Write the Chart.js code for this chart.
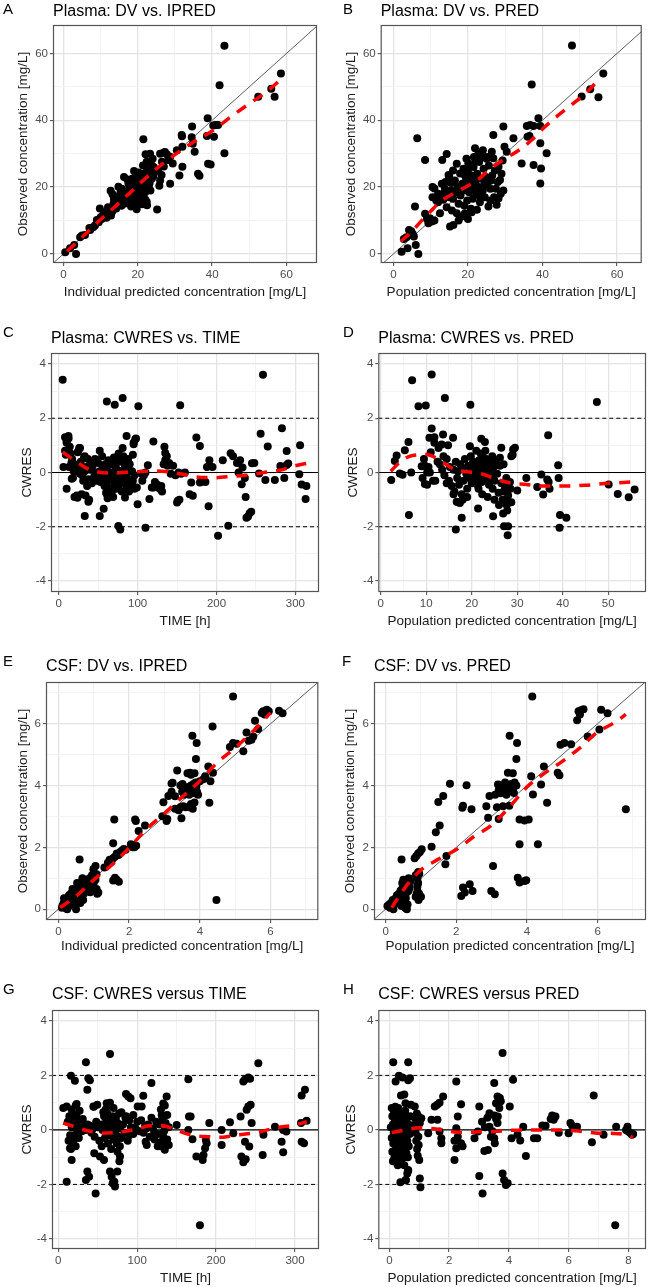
<!doctype html>
<html lang="en">
<head>
<meta charset="utf-8">
<title>Goodness-of-fit plots: plasma and CSF</title>
<style>
  * { margin: 0; padding: 0; }
  body { width: 650px; height: 1287px; background: #fff; position: relative; overflow: hidden; }
  canvas { position: absolute; }
</style>
</head>
<body>
<canvas id="pA"></canvas>
<canvas id="pB"></canvas>
<canvas id="pC"></canvas>
<canvas id="pD"></canvas>
<canvas id="pE"></canvas>
<canvas id="pF"></canvas>
<canvas id="pG"></canvas>
<canvas id="pH"></canvas>
<script src="https://cdn.jsdelivr.net/npm/chart.js"></script>
<script>
// ---- tick labels ----
const plasmaConcTicks = [0, 20, 40, 60];
const plasmaPredTicks = [0, 10, 20, 30, 40, 50];
const timeTicks = [0, 100, 200, 300];
const cwresTicks = [-4, -2, 0, 2, 4];
const csfConcTicks = [0, 2, 4, 6];
const csfPredTicks = [0, 2, 4, 6, 8];

// ---- A: plasma DV vs IPRED  [ipred, dv] ----
const plasmaDvIpred = [
  [43.3,62.3],[42,50.5],[58.5,54],[55.9,49.4],[56.8,47],[52.4,47],[43.3,30.1],
  [38.8,40.6],[40.9,38.6],[41.6,38.6],[40.3,38.4],[40.5,35.1],[38.6,35.3],[38.9,27],[39.6,26.8],
  [36.2,24],[36.6,23.4],[34.6,38.1],[34.5,34.9],[34.8,33],[35.3,30.6],[31.8,35.6],[31.9,35.2],
  [32,32.1],[32,26.1],[31.2,23.5],[30.5,31],[28.7,29.1],[27.3,30.5],[27.8,29.8],[26.9,30.3],
  [26,30],[28.2,28.1],[29.4,27.1],[28.7,21],[26.4,23.6],[26,22],[25.8,20.4],[25.2,13.3],
  [23.6,24],[22.1,29.8],[21.5,34.3],[23.3,30],[22.4,27.6],[24,28.5],[24.3,26],[23,26],
  [12.7,18.9],[14.8,20.1],[16.3,23],[15.7,19.5],[17,17.5],[18,18.5],[17.5,21],[18.5,22.5],
  [19.4,23.2],[20,21],[19,19.5],[20.5,20],[21,22],[21.5,24],[22,23],[22.5,25],[21.8,21],
  [22.8,22],[23,20.5],[23.4,19],[22,18.5],[21,17.5],[20,18],[19.6,16],[19.7,13.4],[22,16.3],
  [22.4,15.6],[22.5,14.6],[21.2,14.9],[20,15.5],[18.8,17],[17.8,15.5],[17.2,16.5],[16.5,17.8],
  [16,16.5],[15.2,15.5],[14.5,16],[14,14.5],[13.5,15],[13,13.5],[12.5,12.2],[12,14],[11.5,11.5],
  [11,12.5],[10.7,11.7],[10.3,10.5],[10,11],[9.8,13.6],[9,10.2],[9.5,9.5],[8.5,8.5],[8,8],
  [7.2,7.2],[7,7.8],[5.8,5.7],[4.5,5],[5,5.5],[2.9,2.7],[1.8,1.7],[0.5,0.5],[3.4,0],
  [11.6,10.8],[12.8,11.5],[13.2,12.8],[14.2,13.6],[15.6,14.4],[16.6,15.1],[17.6,16.8],[18.3,17.6],
  [19.3,18.4],[20.3,19.3],[21.2,20.2],[22.1,19.6],[23.2,21.3],[23.8,22.6],[24.2,23.3],[20.8,23.5],
  [19.8,22.2],[18.8,20.8],[17.8,19.8],[16.8,18.6],[15.8,17.2],[14.9,15.9],[14.3,17.2],[13.6,16.4],
  [18.2,14.2],[19.2,15.2],[20.7,16.6],[21.6,18.8],[22.9,24.2],[23.5,27.2],[22.7,27.4],[24.6,25.1],
  [25.5,24.8],[26.5,27.6],[27,26.2],[20.2,24.4],[21.4,26.5],[19,24.8],[17.2,22.3],[15.4,18.7],[13.2,17.9]
];
const plasmaDvIpredLoess = [
  [1,0.8],[5,5],[10,10.3],[15,15.3],[20,20.5],[25,25.5],[30,29.7],[35,33.5],[40,36.8],
  [45,41],[50,45],[55,48.8],[59,52.8]
];

// ---- B: plasma DV vs PRED  [pred, dv] ----
const plasmaDvPred = [
  [47.9,62.4],[37.1,50.7],[56.3,54],[52.8,49.3],[50.5,47.1],[55,46.9],[38.9,40.6],[39.4,38.3],
  [35.8,38.3],[36.7,38.6],[37.6,38.3],[36,35.1],[36.5,35.3],[39.4,33.1],[41.1,30.1],[34.4,27.1],
  [37.6,26.6],[39.6,25.6],[39.4,21.1],[32.2,34.6],[29.5,38.1],[29.8,32.1],[30.4,30.6],[26.8,35.6],
  [6.4,34.6],[8.5,28.1],[13.1,28.1],[14.3,29.9],[5.8,14.2],[4.2,7.2],[4.8,6.8],[5.2,6],[5.5,5.2],
  [6,2.7],[6.7,0],[3.8,1.7],[2.2,0.7],[9.8,10.7],[10.3,9.7],[9.4,9.2],[2.8,4.5],[3.5,5],[4.5,6.5],
  [8.5,12],[9,10.5],[11,10],[15.2,8.2],[16.1,8.7],
  [11,19.6],[11.5,16],[12,15.5],[12.5,12.2],[13,16.5],[13.4,16.2],[13.5,18],[14,21.5],[14.3,14],
  [14.8,23.6],[15,17],[15.5,19],[15.7,13],[16,16.5],[16.5,22],[16.8,18.5],[17,12.2],[17.2,20],
  [17.5,15],[17.9,24.1],[18,17.5],[18.3,11.2],[18.5,21],[18.8,19],[19,14.5],[19.2,12.2],[19.5,22.5],
  [19.8,16],[20,25],[20.1,27.1],[20.3,18.5],[20.5,21.5],[20.8,13.5],[21,23.5],[21,19.5],[21.3,16.5],
  [21.5,26],[21.6,29],[21.9,31.6],[22,21],[22.2,18],[22.4,13.2],[22.5,24],[22.8,20],[23,27.5],
  [23.2,15.5],[23.5,22.5],[23.7,29.1],[24,19],[24.2,25.5],[24.5,17],[24.8,23],[25,28.5],[25.2,21],
  [25.5,14.2],[25.6,26.5],[26,19.5],[26.4,30.6],[26.5,23.5],[26.8,28.6],[27,17],[27.2,25],[27.7,14.7],
  [28,21.5],[28.2,26.1],[28.2,16.6],[28.6,22.1],[29,24],[29.5,19],[18.8,25.5],[19.6,28.5],[17,27],
  [16,25],[15,23],[14,18],[13,21],[12,18],[10.5,17],[10.5,20],[24,31],[25,29],[22.8,30],[20.7,20.8],
  [21.8,22.5],[19.3,19.8],[18,20.2],[23,17.5],[24.3,20.5],[26.2,22],[27.5,19.5],[28.8,18],[29.3,28],
  [20,10.5],[21,12.5],[17.5,10],[26,16],[22,27.8],[19,23.8],[15.5,21.2],[13.8,19.5]
];
const plasmaDvPredLoess = [
  [2,3.8],[5,6.8],[8,10.5],[10,12.8],[13,16],[16,18],[20,20.4],[23,22.5],[26,25.5],[30,28.5],
  [34,31.3],[37,34],[40,37.4],[44,41.3],[48,44.8],[52,48.5],[54.5,51.5]
];

// ---- C: plasma CWRES vs TIME  [time, cwres] ----
const plasmaCwresTime = [
  [5,3.42],[259,3.6],[61,2.62],[71,2.5],[81,2.75],[101,2.44],[154,2.48],[283,1.63],[256,1.43],
  [265,0.96],[306,1.0],[289,0.79],[12.3,1.35],[12.5,1.25],[10,1.16],[8,0.8],[27,0.9],[25,0.8],
  [52,0.8],[33,0.6],[120,1.14],[134,0.95],[135,0.72],[174.5,1.29],[179,0.98],[191,0.45],[208,0.45],
  [218,0.71],[221,0.6],[230,0.45],[233,0.18],[245,0.34],[254,-0.04],[262,-0.28],[274,-0.28],
  [281,0.24],[286,-0.2],[289,0.28],[291,0.33],[305,-0.06],[308,-0.44],[314,-0.5],[313,-0.98],
  [86,1.35],[95,1.04],[97,1.23],[100,-1.17],[110,-2.04],[115,-0.98],[120,-0.55],[113,0.27],
  [145,0.25],[150,-1.11],[151,-1.04],[153,-1.0],[168,-0.37],[166,-0.8],[170,-0.86],[179,-0.37],
  [183,-0.33],[186,-0.35],[190,-1.24],[202,-2.33],[215,-1.96],[232,-0.43],[237,-0.9],[238,-1.67],
  [240,-1.62],[242,-1.5],[244,-1.45],[75.6,-1.97],[78,-2.1],[33,-1.6],[52,-1.6],[57,-1.34],
  [37.6,-1.08],[38.5,-1.0],[10,-0.6],[16.5,-0.23],[23.7,-0.93],[29,-0.8],[61,-0.8],[65,-0.67],
  [84,-0.92],[94,-0.3],[96,-0.6],[88,0.5],
  [8,1.3],[10,1.1],[12,0.8],[13,0.2],[6,0.2],[9,0.65],[15,0.7],[17,0.5],[20,0.3],[18,-0.2],
  [22,0.1],[24,0.05],[26,0.15],[28,0.4],[30,-0.1],[31,-0.3],[33,0.05],[35,0.2],[36,-0.5],[38,-0.25],
  [40,0.1],[42,-0.4],[43,0.25],[45,-0.15],[46,0.5],[48,-0.3],[50,0.35],[52,0.05],[54,-0.2],[55,0.6],
  [58,-0.5],[59,0.3],[60,-0.75],[61,0.15],[62,-0.3],[63,0.45],[64,-0.8],[65,0.0],[66,-0.55],[67,0.3],
  [68,-0.1],[69,-0.9],[70,0.55],[71,-0.35],[72,0.2],[73,-0.6],[74,0.1],[75,-0.2],[76,0.7],[77,-0.45],
  [78,0.05],[80,0.4],[80,-0.7],[82,0.6],[83,-0.3],[84,0.25],[86,-0.5],[87,0.0],[88,-0.25],[90,0.3],
  [91,-0.6],[92,-0.4],[94,0.65],[95,1.1],[96,-0.1],[98,1.25],[99,-0.55],[24,0.75],[26,0.9],[20,-0.9],
  [23,-0.85],[27,-0.05],[32,0.55],[34,-0.85],[37,0.5],[41,0.3],[47,0.0],[49,-0.05],[53,-0.35],
  [56,0.2],[57,-0.1],[63,-0.1],[65,0.35],[70,-0.2],[79,-0.15],[85,0.1],[89,-0.7],[93,0.05],[62,-0.95],
  [67,-0.75],[73,0.35],[75,0.6],[81,0.9],[84,0.45],[88,0.2],[14,0.95],[16,0.35],[19,0.05],
  [105,-0.05],[106,-0.3],[108,-0.1],[110,0.0],[118,-0.55],[122,-0.35],[125,-0.45],[128,-0.6],
  [130,-0.5],[131,-0.7],[133,0.3],[135,0.45],[137,0.6],[138,0.25],[140,0.35],[142,-0.05],[148,-0.1],
  [152,0.0],[155,-0.05],[160,0.0],[188,0.2],[195,0.2],[226,0.35],[228,0.0],[236,-0.2],[248,0.35]
];
const plasmaCwresTimeLoess = [
  [5,0.75],[15,0.55],[25,0.35],[35,0.16],[50,0.02],[65,-0.02],[80,0],[100,0.03],[120,0.06],
  [140,0.02],[160,-0.08],[180,-0.18],[200,-0.19],[220,-0.14],[240,-0.09],[260,0],[280,0.08],
  [300,0.25],[315,0.34]
];

// ---- D: plasma CWRES vs PRED  [pred, cwres] ----
const plasmaCwresPred = [
  [6.9,3.4],[11.2,3.61],[8.3,2.44],[9.9,2.47],[14.1,2.75],[19.7,2.5],[47.5,2.6],[36.8,1.37],
  [11.2,1.62],[10.7,1.28],[11.8,1.3],[13.7,1.4],[15.9,1.28],[13.4,1.03],[14.8,1.0],[6.1,1.12],
  [5.3,0.82],[3.5,0.63],[3.1,0.42],[2.3,-0.28],[4.2,-0.04],[4.8,-0.08],[6.7,0],[6.2,-1.57],[9,0.23],
  [9.7,0.25],[9.2,-0.2],[9.7,-0.42],[10.2,0.0],[16.7,-1.08],[17.4,-1.12],[17.8,-1.67],[16.5,-2.1],
  [19.6,0.97],[22.1,1.24],[22.9,1.12],[24.5,0.6],[26.2,0.54],[26.5,0.91],[29.1,0.85],[29.5,0.91],
  [28.7,0.6],[30,-0.66],[27.9,-1.09],[27.7,-1.2],[26.9,-1.51],[24.7,-1.61],[27.1,-1.98],[28,-1.98],
  [27.9,-2.31],[21.4,-1.33],[32,-0.2],[34.4,-0.53],[35.3,-0.07],[35.7,-0.81],[36.6,-0.26],[36.9,-0.35],
  [37.1,-0.6],[39,0.27],[39.1,-0.2],[39.4,-1.57],[39.3,-2.04],[40.8,-1.67],[50.1,-0.44],[52.1,-0.79],
  [54.5,-0.91],[55.8,-0.63],
  [13,0.3],[13.5,0.1],[14,-0.1],[14.5,0.5],[15,-0.3],[15.2,0.2],[15.6,-0.5],[16,0.1],[16.2,-0.7],
  [16.5,0.4],[16.8,-0.2],[17,0.05],[17.2,-0.45],[17.5,0.3],[17.8,-0.8],[18,0.15],[18.2,-0.3],[18.5,0.5],
  [18.8,-0.05],[19,-0.6],[19.2,0.25],[19.5,-0.2],[19.8,0.6],[20,-0.4],[20.2,0.05],[20.5,-0.15],
  [20.7,0.35],[21,-0.3],[21.2,0.1],[21.4,-0.5],[21.6,0.45],[21.8,-0.1],[22,0.2],[22.2,-0.35],[22.4,0.0],
  [22.6,-0.2],[22.8,0.3],[23,-0.05],[23.2,0.5],[23.4,-0.25],[23.6,0.15],[23.8,-0.45],[24,0.05],
  [24.2,0.35],[24.4,-0.15],[24.6,-0.6],[24.8,0.2],[25,-0.3],[25.3,0.45],[25.6,-0.05],[25.9,-0.75],
  [26.2,0.25],[26.5,-0.4],[26.8,-1.0],[27,0.3],[27.3,-0.5],[27.6,-0.2],[28,-0.85],[28.4,-0.35],
  [28.7,-1.1],[22,0.7],[22.5,0.55],[21,0.8],[20.3,0.4],[23,0.8],[24,0.45],[21.5,-0.6],[22.3,-0.8],
  [23.5,-0.9],[25,-1.0],[19,-0.9],[18,-1.0],[17,-1.1],[16,-0.8],[14.5,-0.4],[13.8,0.6],[12,-0.3],
  [12.5,0.4],[11,0.75],[11.8,1.1],[12.7,0.9],[10.5,0.2],[10.2,-0.45],[10.8,0.0],[11.5,-0.3],[9.5,0.5],
  [26,-1.2],[27.8,-1.4],[27,-0.7],[28.5,-0.6],[29,0.65],[23.8,-0.05],[21.8,0.25],[22.7,0.1],[20.8,-0.05],
  [19.7,0.2]
];
const plasmaCwresPredLoess = [
  [2.2,0.05],[4.5,0.42],[7,0.63],[10,0.66],[12,0.55],[14,0.33],[16.5,0.1],[19.5,0.02],[22,-0.04],
  [25,-0.22],[28,-0.37],[32,-0.44],[35,-0.5],[40,-0.5],[45,-0.47],[50,-0.4],[55,-0.35]
];

// ---- E: CSF DV vs IPRED  [ipred, dv] ----
const csfDvIpred = [
  [4.94,6.88],[4.36,5.91],[3.79,5.61],[3.91,5.38],[3.89,4.86],[4.24,4.62],[3.72,4.41],[3.85,4.4],
  [3.23,4.09],[3.36,4.49],[3.51,4.05],[3.11,3.66],[2.97,3.46],[3.53,3.33],[3.48,2.94],[4.27,3.44],
  [4.0,4.14],[4.3,4.14],[4.37,4.41],[3.08,2.92],[2.94,3.01],[3.06,2.85],[2.45,2.71],[2.19,2.85],
  [2.17,2.9],[2.27,2.53],[2.12,2.08],[2.15,2.0],[1.58,2.9],[1.55,2.13],[1.6,1.02],[1.71,0.89],
  [1.55,0.93],[1.65,0.95],[0.6,1.61],[1.05,1.4],[0.99,1.29],[1.08,1.13],[1.13,0.54],[1.08,0.65],
  [4.47,0.3],
  [4.85,5.25],[4.94,5.38],[5.04,5.35],[5.23,5.11],[5.32,5.72],[5.51,5.59],[5.65,5.83],[5.56,6.1],
  [5.79,6.4],[5.89,6.45],[5.95,6.4],[6.24,6.42],[6.34,6.34],[5.83,6.3],[5.46,5.48],[5.38,5.45],[5.75,6.35],
  [1.3,1.35],[1.4,1.5],[1.45,1.6],[1.5,1.55],[1.55,1.65],[1.6,1.7],[1.65,1.8],[1.7,1.75],[1.75,1.85],
  [1.8,1.9],[1.85,1.95],[1.9,1.92],[2.05,2.1],[2.1,2.0],[2.2,2.05],
  [0.1,0.05],[0.12,0.12],[0.15,0.2],[0.2,0.05],[0.22,0.3],[0.25,0.15],[0.28,0.4],[0.3,0.1],
  [0.33,0.25],[0.35,0.5],[0.38,0.35],[0.4,0.2],[0.42,0.45],[0.45,0.6],[0.47,0.3],[0.5,0.0],[0.5,0.55],
  [0.52,0.4],[0.55,0.7],[0.55,0.25],[0.58,0.5],[0.6,0.8],[0.6,0.35],[0.63,0.6],[0.65,0.45],[0.67,0.9],
  [0.7,0.65],[0.72,0.5],[0.75,0.85],[0.78,0.7],[0.8,0.95],[0.82,0.6],[0.85,0.8],[0.88,1.0],[0.9,0.75],
  [0.95,1.1],[1.0,0.85],[1.0,1.15],[1.05,0.95],[0.3,0.45],[0.45,0.15],[0.62,0.2],[0.7,0.3],[0.16,0.35],
  [0.25,0.0],[0.4,0.65],[0.53,0.85],[0.68,1.0],[0.9,0.55],[1.1,0.5],[0.97,0.7],
  [3.4,3.2],[3.45,3.3],[3.5,3.8],[3.55,3.7],[3.6,3.75],[3.62,3.9],[3.65,3.85],[3.68,3.95],[3.7,3.7],
  [3.72,3.8],[3.75,4.0],[3.78,3.85],[3.8,3.9],[3.82,4.05],[3.85,3.75],[3.9,3.95],[3.88,4.1],[3.92,3.8],
  [3.95,3.7],[3.6,3.3],[3.7,3.3],[3.8,3.25],[3.85,3.45],[3.75,3.4],[3.3,3.25],[3.2,3.8],[3.3,3.65],
  [3.45,4.0],[3.55,3.95],[3.65,4.4],[3.75,4.35],[3.2,4.07],[4.1,4.2],[4.15,4.3]
];
const csfDvIpredLoess = [
  [0.05,0.05],[0.5,0.42],[1,0.95],[1.5,1.42],[2,1.98],[2.5,2.6],[3,3.1],[3.5,3.63],[4,4.15],
  [4.5,4.75],[5,5.22],[5.5,5.75],[6,6.35]
];

// ---- F: CSF DV vs PRED  [pred, dv] ----
const csfDvPred = [
  [4.15,6.88],[6.8,3.23],[3.51,5.61],[3.72,5.38],[3.7,4.86],[1.82,4.06],[2.29,4.01],[1.63,3.66],
  [1.49,3.47],[1.53,2.71],[1.42,2.49],[2.17,3.28],[2.19,3.35],[2.43,3.23],[2.85,3.33],[2.94,3.66],
  [3.18,4.03],[3.46,4.41],[3.6,4.4],[3.55,4.05],[3.35,3.95],[3.32,3.33],[3.63,3.76],[4.12,4.3],
  [4.17,3.71],[4.4,4.03],[4.48,4.62],[4.57,3.44],[4.87,4.41],[4.92,4.33],[4.31,2.1],[3.79,2.1],
  [3.79,2.9],[3.93,2.87],[4.05,2.9],[3.04,1.4],[2.99,0.59],[3.09,0.48],[3.74,1.02],[3.79,0.86],
  [3.93,0.91],[3.98,0.94],[2.19,0.7],[2.14,0.43],[2.24,0.54],[2.38,0.81],[2.46,0.59],[2.9,2.96],
  [3.2,2.92],[1.3,2.02],[1.69,1.45],[1.72,1.72],
  [4.95,5.32],[5.06,5.38],[5.25,5.34],[5.42,6.11],[5.46,6.4],[5.53,6.44],[5.6,6.47],[5.72,5.59],
  [6.1,6.45],[6.28,6.34],[6.05,5.81],[5.5,6.3],
  [3.1,3.7],[3.2,3.85],[3.25,3.75],[3.3,3.9],[3.4,3.8],[3.45,3.95],[3.5,3.85],[3.38,4.1],[3.55,4.0],
  [3.65,4.1],[3.6,3.9],[3.7,4.0],[3.42,3.7],[3.25,4.0],[3.15,3.3],[3.5,3.35],
  [1.02,1.94],[0.87,1.72],[0.92,1.8],[0.97,1.85],[0.82,1.65],[0.45,1.61],
  [0.05,0.1],[0.1,0.15],[0.12,0.05],[0.15,0.2],[0.18,0.1],[0.2,0.3],[0.22,0.0],[0.25,0.15],[0.28,0.35],
  [0.3,0.25],[0.32,0.45],[0.35,0.3],[0.38,0.5],[0.4,0.2],[0.42,0.6],[0.45,0.4],[0.48,0.7],[0.5,0.55],
  [0.5,0.25],[0.52,0.8],[0.53,0.45],[0.55,0.9],[0.55,0.65],[0.57,0.35],[0.58,0.75],[0.6,0.95],
  [0.6,0.55],[0.6,0.0],[0.62,0.15],[0.62,0.85],[0.65,0.6],[0.65,1.0],[0.68,0.7],[0.7,0.9],[0.45,0.1],
  [0.55,0.05],[0.5,0.95],[0.47,0.85],[0.85,0.4],[0.88,0.5],[0.9,0.6],[0.9,0.75],[0.92,0.85],[0.9,1.0],
  [0.88,1.1],[0.92,1.2],[0.95,1.15],[0.85,1.1],[0.95,0.5],[1.0,0.4],[0.93,0.3]
];
const csfDvPredLoess = [
  [0.17,0.05],[0.4,0.45],[0.65,0.85],[1,1.27],[1.5,1.62],[2,1.93],[2.5,2.35],[3,2.72],[3.5,3.3],
  [4,3.95],[4.5,4.4],[5,4.78],[5.5,5.22],[6,5.73],[6.5,6.05],[6.8,6.3]
];

// ---- G: CSF CWRES vs TIME  [time, cwres] ----
const csfCwresTime = [
  [65.5,2.79],[35,2.48],[253.5,2.45],[16,1.99],[21,1.8],[38,1.9],[40,1.82],[36.8,1.47],[118,1.72],
  [164.8,1.86],[234.5,1.78],[236.5,1.85],[240.8,1.92],[243,1.88],[312.6,1.47],[308.4,1.26],
  [85.8,1.32],[88.7,1.23],[91.5,1.16],[107.7,1.25],[137.3,1.23],[133,0.97],[10.6,0.86],[6.3,0.8],
  [23.2,0.95],[44.4,0.86],[49.4,0.92],[61.3,0.98],[65.5,1.0],[100.6,0.86],[105.6,0.86],[131,0.55],
  [132,0.49],[165.6,0.49],[167.7,0.49],[150,0.18],[164.8,0],[170,-0.34],[175,-0.98],[183,-1.1],
  [184,-0.92],[186,-0.67],[188,-0.49],[187,-0.37],[191.4,0.25],[207,0],[207,-0.55],[217.6,0.28],
  [221.8,-0.12],[231,0.49],[232,-0.98],[234.5,-1.19],[237.5,-1.08],[238.7,0.74],[240.8,0.86],
  [243.8,0.92],[236.6,-0.43],[242,-0.61],[245,0.25],[260,-0.18],[259,-0.92],[274.6,0.12],[285,0],
  [289,-0.06],[283,-0.43],[285,-0.82],[307.6,0.25],[308.4,-0.43],[311.4,-0.49],[314.7,0.34],
  [10.6,-1.9],[16.9,-1.1],[14.8,-0.67],[36.8,-1.53],[35,-1.84],[39,-1.72],[47.3,-2.33],[45.6,-0.86],
  [52.8,-0.98],[57.9,-1.1],[65.5,-1.53],[67.6,-1.72],[68.9,-1.96],[71.8,-2.08],[71,-1.9],[74.8,-1.53],
  [77.4,-1.15],[78.2,-0.98],[179.5,-3.5],[112,0.06],[110.7,-0.43],[120.5,-0.2],[133,-0.25],
  [137.3,-0.43],[135,-0.73],[131,-0.61],
  [12,0.3],[14,0.5],[15,-0.2],[16,0.4],[17,0.1],[18,0.6],[19,-0.4],[20,0.45],[21,0.2],[22,-0.6],
  [23,0.55],[24,0.0],[25,0.35],[26,-0.3],[27,0.7],[28,0.1],[30,-0.05],[31,0.4],[33,0.15],[35,0.0],
  [37,0.2],[40,0.15],[42,-0.1],[44,0.05],[46,-0.25],[48,0.3],[50,0.1],[52,-0.4],[54,0.2],[55,-0.6],
  [56,0.0],[58,0.5],[59,-0.3],[60,0.25],[61,-0.15],[62,0.6],[63,-0.5],[64,0.1],[65,-0.2],[66,0.35],
  [67,-0.7],[68,0.0],[69,0.5],[70,-0.35],[71,0.15],[72,-0.1],[73,0.45],[74,-0.5],[75,0.25],[76,-0.25],
  [77,0.6],[78,0.05],[80,-0.3],[82,0.2],[84,-0.1],[86,0.5],[88,-0.4],[90,-0.2],[92,0.1],[95,-0.15],
  [98,0.05],[100,0.3],[103,-0.05],[105,0.35],[108,-0.1],[110,0.15],[112,-0.55],[114,0.2],[116,-0.25],
  [118,0.45],[120,0.05],[122,-0.35],[124,0.3],[126,-0.15],[128,0.2],[130,-0.45],[132,0.4],[134,-0.05],
  [136,0.25],[138,-0.35],[140,0.1],[16,-0.7],[18,-0.5],[13,-0.4],[20,-0.2],[22,0.9],[17,0.75],[60,0.75],
  [70,0.8],[64,0.9],[57,0.65],[75,-0.8],[78,-0.6],[80,0.65],[45,0.85],[95,0.55],[130,0.75],[135,0.9],
  [138,0.55],[126,-0.6],[140,-0.55],[85,0.45],[90,0.35]
];
const csfCwresTimeLoess = [
  [6,0.25],[15,0.17],[25,0.07],[40,-0.05],[55,-0.12],[70,-0.1],[85,-0.05],[100,0.03],[115,0.15],
  [130,0.16],[145,0.05],[160,-0.12],[175,-0.22],[190,-0.25],[205,-0.27],[220,-0.22],[235,-0.16],
  [250,-0.1],[265,0],[280,0.1],[300,0.18],[315,0.3]
];

// ---- H: CSF CWRES vs PRED  [pred, cwres] ----
const csfCwresPred = [
  [0.13,2.48],[0.63,2.48],[0.32,1.99],[0.44,1.92],[0.21,1.78],[0.69,1.9],[0.63,1.82],[3.79,2.82],
  [3.51,1.72],[4.14,1.84],[2.24,1.78],[0.39,1.26],[0.5,1.3],[0.54,0.98],[0.72,0.92],[0.85,0.86],
  [1.8,1.23],[1.68,1.0],[1.6,0.92],[1.52,0.86],[1.07,0.43],[1.02,0.25],[1.41,0.37],[1.61,0.37],
  [1.3,-0.12],[1.68,-0.06],[1.74,-0.31],[1.74,-0.49],[2.29,0.49],[2.4,0.94],[2.24,0.06],[2.29,-0.25],
  [2.18,-0.4],[2.24,-0.67],[2.18,-1.1],[2.4,-0.49],[2.45,-0.6],[3.01,0.86],[2.96,-0.06],[2.85,-0.31],
  [3.01,-1.69],[3.12,-2.33],[3.18,-0.77],[3.3,-0.74],[3.35,0.61],[3.52,0.53],[3.57,0.41],[3.63,0.49],
  [3.62,1.23],[3.7,1.17],[3.73,1.05],[3.57,0.98],[3.68,0.8],[3.35,0.12],[3.4,-0.25],[3.51,-0.31],
  [3.53,-0.49],[3.62,0.25],[3.79,-1.6],[3.84,-1.84],[3.96,-1.96],[3.9,-2.02],[4.03,0.86],[4.09,-0.31],
  [4.29,-0.18],[4.38,-0.39],[4.48,0.12],[4.57,-0.96],[4.84,-0.31],[4.95,-0.31],[5.12,0.16],[5.23,0.15],
  [5.4,0.4],[5.45,0.53],[5.56,0.49],[5.5,0.37],[5.67,-0.1],[6.06,0.25],[6.12,0.15],[6.23,0.06],
  [6.28,0.12],[6.0,-0.12],[6.84,1.26],[6.78,-0.45],[7.17,-0.18],[7.59,0.12],[7.56,-3.5],[7.97,0.12],
  [8.0,-0.06],[8.06,-0.1],[8.12,-0.18],[8.16,-0.15],[7.92,0.0],[1.02,-1.78],[1.04,-2.1],[0.63,-1.47],
  [0.55,-1.84],[0.37,-1.92],[3.1,0.3],[3.2,0.1],[3.45,-0.05],[3.28,0.45],
  [0.05,0.1],[0.08,-0.3],[0.1,0.5],[0.1,-0.8],[0.12,0.2],[0.13,-0.5],[0.15,0.7],[0.15,-0.1],[0.17,-1.0],
  [0.18,0.4],[0.2,-0.3],[0.2,0.0],[0.22,-0.7],[0.22,0.6],[0.24,-0.15],[0.25,0.3],[0.25,-1.2],[0.27,-0.45],
  [0.28,0.1],[0.3,0.8],[0.3,-0.6],[0.32,-0.2],[0.33,0.45],[0.35,-0.9],[0.35,0.0],[0.37,0.25],[0.38,-0.5],
  [0.4,0.6],[0.4,-1.1],[0.42,-0.05],[0.43,0.35],[0.45,-0.7],[0.45,0.15],[0.47,-0.3],[0.48,0.5],[0.5,-1.3],
  [0.5,0.05],[0.52,-0.55],[0.53,0.7],[0.55,-0.2],[0.55,0.3],[0.57,-0.85],[0.58,0.1],[0.6,-0.4],[0.6,0.45],
  [0.62,-1.0],[0.63,0.0],[0.65,0.2],[0.65,-0.6],[0.68,-0.15],[0.7,0.5],[0.2,0.85],[0.08,0.8],[0.12,-1.15],
  [0.28,-1.3],[0.38,-1.05],[0.5,-1.0],[0.6,-1.6],[0.63,-1.5],[0.55,-1.85],
  [0.85,0.45],[0.87,0.2],[0.88,-0.1],[0.9,0.35],[0.9,-0.4],[0.92,0.6],[0.93,-0.7],[0.95,0.15],[0.95,-0.95],
  [0.97,0.5],[0.97,-0.25],[1.0,-1.1],[0.98,-0.55],[1.0,0.3]
];
const csfCwresPredLoess = [
  [0.08,-0.1],[0.5,-0.01],[1,0.08],[1.5,0.04],[2,-0.05],[2.5,-0.1],[3,-0.07],[3.5,-0.06],[4,-0.02],
  [4.5,0],[5,0],[5.5,0],[6,-0.02],[6.5,-0.06],[7,-0.12],[7.5,-0.13],[8,-0.2],[8.15,-0.28]
];

// ---- panel layout (page pixel coords of the plot box) ----
const panels = [
  { id: 'pA', letter: 'A', title: 'Plasma: DV vs. IPRED', kind: 'dv', pts: plasmaDvIpred, smooth: plasmaDvIpredLoess,
    xTitle: 'Individual predicted concentration [mg/L]', yTitle: 'Observed concentration [mg/L]',
    col: 0, L: 53, R: 317, T: 25, B: 263, xr: [-2.8, 68.2], yr: [-2.7, 68.5], xt: plasmaConcTicks, yt: plasmaConcTicks,
    titleY: 12, letterX: 3, letterY: 10, yTitleX: 23, xTitleY: 292.5 },
  { id: 'pB', letter: 'B', title: 'Plasma: DV vs. PRED', kind: 'dv', pts: plasmaDvPred, smooth: plasmaDvPredLoess,
    xTitle: 'Population predicted concentration [mg/L]', yTitle: 'Observed concentration [mg/L]',
    col: 1, L: 380.7, R: 641.7, T: 25, B: 263, xr: [-3.4, 66.6], yr: [-2.7, 68.5], xt: plasmaConcTicks, yt: plasmaConcTicks,
    titleY: 12, letterX: 343, letterY: 10, yTitleX: 351, xTitleY: 292.5 },
  { id: 'pC', letter: 'C', title: 'Plasma: CWRES vs. TIME', kind: 'res', pts: plasmaCwresTime, smooth: plasmaCwresTimeLoess,
    xTitle: 'TIME [h]', yTitle: 'CWRES',
    col: 0, L: 51, R: 319, T: 353.3, B: 592.7, xr: [-9.8, 330], yr: [-4.405, 4.405], xt: timeTicks, yt: cwresTicks,
    titleY: 339.3, letterX: 3, letterY: 333, yTitleX: 27, xTitleY: 621.7 },
  { id: 'pD', letter: 'D', title: 'Plasma: CWRES vs. PRED', kind: 'res', pts: plasmaCwresPred, smooth: plasmaCwresPredLoess,
    xTitle: 'Population predicted concentration [mg/L]', yTitle: 'CWRES',
    col: 1, L: 378.3, R: 646.7, T: 353.3, B: 592.7, xr: [-0.53, 58.3], yr: [-4.405, 4.405], xt: plasmaPredTicks, yt: cwresTicks,
    titleY: 339.3, letterX: 343, letterY: 333, yTitleX: 353, xTitleY: 621.7 },
  { id: 'pE', letter: 'E', title: 'CSF: DV vs. IPRED', kind: 'dv', pts: csfDvIpred, smooth: csfDvIpredLoess,
    xTitle: 'Individual predicted concentration [mg/L]', yTitle: 'Observed concentration [mg/L]',
    col: 0, L: 46, R: 318.3, T: 682.3, B: 920.7, xr: [-0.35, 7.35], yr: [-0.35, 7.35], xt: csfConcTicks, yt: csfConcTicks,
    titleY: 666.7, letterX: 3, letterY: 661.7, yTitleX: 23, xTitleY: 946.7 },
  { id: 'pF', letter: 'F', title: 'CSF: DV vs. PRED', kind: 'dv', pts: csfDvPred, smooth: csfDvPredLoess,
    xTitle: 'Population predicted concentration [mg/L]', yTitle: 'Observed concentration [mg/L]',
    col: 1, L: 374, R: 646.7, T: 682.3, B: 920.7, xr: [-0.33, 7.37], yr: [-0.35, 7.35], xt: csfConcTicks, yt: csfConcTicks,
    titleY: 666.7, letterX: 342, letterY: 661.7, yTitleX: 350, xTitleY: 946.7 },
  { id: 'pG', letter: 'G', title: 'CSF: CWRES versus TIME', kind: 'res', pts: csfCwresTime, smooth: csfCwresTimeLoess,
    xTitle: 'TIME [h]', yTitle: 'CWRES',
    col: 0, L: 52, R: 319, T: 1010, B: 1249, xr: [-8, 330.4], yr: [-4.37, 4.4], xt: timeTicks, yt: cwresTicks,
    titleY: 995, letterX: 3, letterY: 990, yTitleX: 27, xTitleY: 1278.3 },
  { id: 'pH', letter: 'H', title: 'CSF: CWRES versus PRED', kind: 'res', pts: csfCwresPred, smooth: csfCwresPredLoess,
    xTitle: 'Population predicted concentration [mg/L]', yTitle: 'CWRES',
    col: 1, L: 378.3, R: 647.7, T: 1010, B: 1249, xr: [-0.37, 8.59], yr: [-4.37, 4.4], xt: csfPredTicks, yt: cwresTicks,
    titleY: 995, letterX: 343, letterY: 990, yTitleX: 351.7, xTitleY: 1278.3 }
];

const FONT = "'Liberation Sans', Arial, sans-serif";
const axisTitleSize = 13.5;
Chart.defaults.font.family = FONT;

// panel border, title and letter
const panelDecor = {
  id: 'panelDecor',
  afterDraw(chart, args, opts) {
    const { ctx, chartArea: { left, top, right, bottom } } = chart;
    ctx.save();
    ctx.strokeStyle = '#555';
    ctx.lineWidth = 1.2;
    ctx.strokeRect(left + 0.5, top + 0.5, right - left - 1, bottom - top - 1);
    ctx.fillStyle = '#000';
    ctx.textAlign = 'left';
    ctx.textBaseline = 'middle';
    ctx.font = '16px ' + FONT;
    ctx.fillText(opts.title, left, opts.titleY);
    ctx.font = '15px ' + FONT;
    ctx.fillText(opts.letter, opts.letterX, opts.letterY);
    ctx.restore();
  }
};

function axis(range, major, horizontal, size, title, titlePad) {
  const step = major[1] - major[0];
  const all = [major[0] - step / 2];
  major.forEach(v => all.push(v, v + step / 2));
  const vals = all.filter(v => v >= range[0] && v <= range[1]);
  const isMajor = v => major.some(m => Math.abs(m - v) < 1e-9);
  return {
    type: 'linear',
    position: horizontal ? 'bottom' : 'left',
    min: range[0],
    max: range[1],
    bounds: 'data',
    afterBuildTicks: s => { s.ticks = vals.map(v => ({ value: v })); },
    afterFit: s => { if (horizontal) s.height = size; else s.width = size; },
    border: { display: false },
    grid: {
      color: c => (c.tick && isMajor(c.tick.value)) ? '#e4e4e4' : '#f2f2f2',
      lineWidth: c => (c.tick && isMajor(c.tick.value)) ? 1.3 : 0.9,
      tickColor: c => (c.tick && isMajor(c.tick.value)) ? '#444' : 'rgba(0,0,0,0)',
      tickLength: 3,
      tickWidth: 1
    },
    ticks: {
      autoSkip: false,
      maxRotation: 0,
      minRotation: 0,
      padding: 2,
      color: '#4d4d4d',
      font: { size: 11.5 },
      callback: v => isMajor(v) ? String(v) : ''
    },
    title: { display: true, text: title, color: '#1a1a1a', font: { size: axisTitleSize }, padding: titlePad }
  };
}

panels.forEach(p => {
  const cx = p.col * 325, cw = 325;
  const cy = p.T - 45;
  const ch = p.B + 40 - cy;
  const half = axisTitleSize * 1.2 / 2;
  const canvas = document.getElementById(p.id);
  canvas.width = cw;
  canvas.height = ch;
  canvas.style.left = cx + 'px';
  canvas.style.top = cy + 'px';

  const toXY = arr => arr.map(([x, y]) => ({ x, y }));
  const datasets = [
    { data: toXY(p.smooth), showLine: true, borderColor: '#ff0000', borderWidth: 3.5,
      borderDash: [11, 9], borderCapStyle: 'butt', pointRadius: 0, cubicInterpolationMode: 'monotone' },
    { data: toXY(p.pts), pointRadius: 4, pointBackgroundColor: '#000', pointBorderWidth: 0 }
  ];
  if (p.kind === 'dv') {
    const lo = Math.min(p.xr[0], p.yr[0]), hi = Math.max(p.xr[1], p.yr[1]);
    datasets.push({ data: [{ x: lo, y: lo }, { x: hi, y: hi }], showLine: true,
      borderColor: '#333', borderWidth: 0.8, pointRadius: 0 });
  } else {
    [[0, []], [2, [4, 3]], [-2, [4, 3]]].forEach(([h, dash]) => {
      datasets.push({ data: [{ x: p.xr[0], y: h }, { x: p.xr[1], y: h }], showLine: true,
        borderColor: '#000', borderWidth: h === 0 ? 1.2 : 1, borderDash: dash, pointRadius: 0 });
    });
  }

  new Chart(canvas, {
    type: 'scatter',
    data: { datasets },
    options: {
      responsive: false,
      animation: false,
      events: [],
      layout: { padding: { left: 0, right: cx + cw - p.R, top: p.T - cy, bottom: 0 } },
      plugins: {
        legend: { display: false },
        tooltip: { enabled: false },
        panelDecor: { title: p.title, titleY: p.titleY - cy, letter: p.letter,
          letterX: p.letterX - cx, letterY: p.letterY - cy }
      },
      scales: {
        x: axis(p.xr, p.xt, true, cy + ch - p.B, p.xTitle, { top: 0, bottom: cy + ch - p.xTitleY - half }),
        y: axis(p.yr, p.yt, false, p.L - cx, p.yTitle, { top: p.yTitleX - cx - half, bottom: 0 })
      }
    },
    plugins: [panelDecor]
  });
});
</script>
</body>
</html>
